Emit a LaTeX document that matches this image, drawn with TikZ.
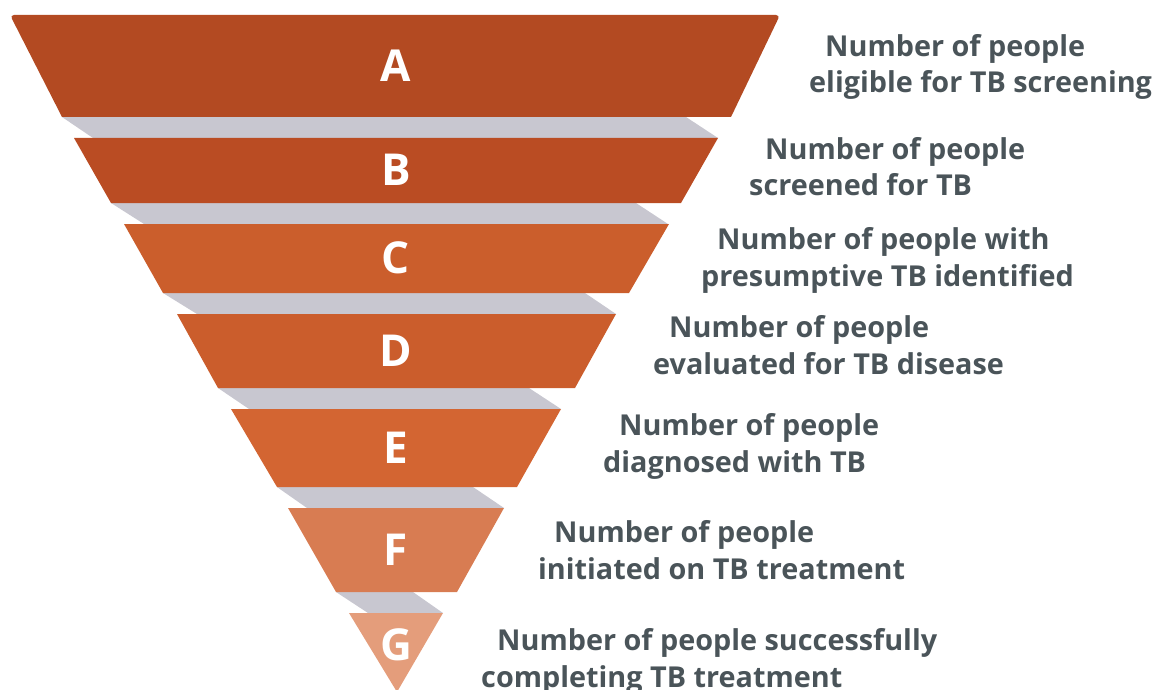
\documentclass[tikz,border=0pt]{standalone}
\usepackage{fontspec}
\newfontfamily\lab{Open Sans}
\definecolor{cA}{RGB}{179,74,34}
\definecolor{cB}{RGB}{186,76,35}
\definecolor{cC}{RGB}{203,94,44}
\definecolor{cD}{RGB}{203,93,44}
\definecolor{cE}{RGB}{211,101,50}
\definecolor{cF}{RGB}{216,124,82}
\definecolor{cG}{RGB}{228,157,123}
\definecolor{band}{RGB}{200,199,208}
\definecolor{txt}{RGB}{74,84,89}
\tikzset{
  letter/.style={text=white, font=\lab\bfseries\fontsize{44}{50}\selectfont, inner sep=0pt},
  desc/.style={text=txt, font=\lab\bfseries\fontsize{28.8}{36.5}\selectfont, align=left, anchor=base west, inner sep=0pt},
  bandfill/.style={fill=band}
}
\begin{document}
\begin{tikzpicture}[x=1pt,y=-1pt]
\useasboundingbox (0,0) rectangle (1157,690);
% grey bands
\fill[bandfill] (62,117) -- (686,117) -- (718,138) -- (93,138) -- cycle;
\fill[bandfill] (111,203) -- (636,203) -- (668,224) -- (144,224) -- cycle;
\fill[bandfill] (163,293) -- (585,293) -- (616,314) -- (197,314) -- cycle;
\fill[bandfill] (218,388) -- (529,388) -- (561,409) -- (249,409) -- cycle;
\fill[bandfill] (277,487) -- (473,487) -- (504,508) -- (307,508) -- cycle;
\fill[bandfill] (336,592) -- (413,592) -- (443,613) -- (368,613) -- cycle;
% segments
\fill[cA] (62,117) [rounded corners=4pt] -- (10,15) -- (780,15) [sharp corners] -- (731,117) -- cycle;
\fill[cB] (74,138) -- (718,138) -- (681,203) -- (111,203) -- cycle;
\fill[cC] (124,224) -- (669,224) -- (629,293) -- (163,293) -- cycle;
\fill[cD] (177,314) -- (616,314) -- (575,388) -- (218,388) -- cycle;
\fill[cE] (231,409) -- (561,409) -- (517,487) -- (277,487) -- cycle;
\fill[cF] (288,508) -- (504,508) -- (457,592) -- (336,592) -- cycle;
\fill[cG] (349,613) -- (443,613) -- (397,692) -- cycle;
% letters
\node[letter] (lA) at (396,66) {A};
\node[letter] (lB) at (396,170) {B};
\node[letter] (lC) at (396,258) {C};
\node[letter] (lD) at (396,351) {D};
\node[letter] (lE) at (396,448) {E};
\node[letter] (lF) at (396,550) {F};
\node[letter] (lG) at (396,645) {G};
% descriptions (anchored at the baseline of the second line)
\node[desc] (tA) at (809,93) {\hspace{16pt}Number of people\\eligible for TB screening};
\node[desc] (tB) at (749,196) {\hspace{16pt}Number of people\\screened for TB};
\node[desc] (tC) at (701,286) {\hspace{16pt}Number of people with\\presumptive TB identified};
\node[desc] (tD) at (653,374) {\hspace{16pt}Number of people\\evaluated for TB disease};
\node[desc] (tE) at (603,472) {\hspace{16pt}Number of people\\diagnosed with TB};
\node[desc] (tF) at (538,579) {\hspace{16pt}Number of people\\initiated on TB treatment};
\node[desc] (tG) at (481,687) {\hspace{16pt}Number of people successfully\\completing TB treatment};
\end{tikzpicture}
\end{document}
